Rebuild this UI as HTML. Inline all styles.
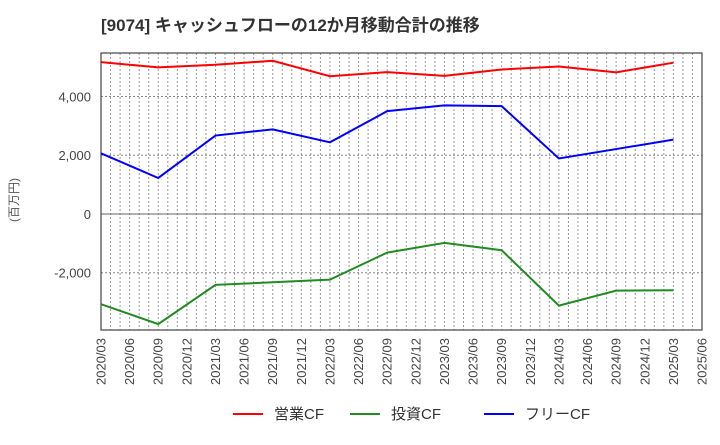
<!DOCTYPE html>
<html><head><meta charset="utf-8"><style>
body{margin:0;background:#fff;width:720px;height:440px;overflow:hidden;font-family:"Liberation Sans","Noto Sans CJK JP",sans-serif}
</style></head><body>
<svg id="chart" width="720" height="440" xmlns="http://www.w3.org/2000/svg" font-family="Liberation Sans, Noto Sans CJK JP, sans-serif">
<text x="101" y="31" font-size="17" font-weight="bold" fill="#333">[9074]  キャッシュフローの12か月移動合計の推移</text>
<text transform="translate(18,200) rotate(-90)" text-anchor="middle" font-size="12" fill="#555">(百万円)</text>
<g id="grid"></g><g id="axes"></g><g id="series"></g>
<g font-size="15" fill="#333">
<line x1="233" y1="414" x2="263" y2="414" stroke="#ff0000" stroke-width="2"/><text x="274" y="419">営業CF</text>
<line x1="350" y1="414" x2="380" y2="414" stroke="#228b22" stroke-width="2"/><text x="391" y="419">投資CF</text>
<line x1="484" y1="414" x2="514" y2="414" stroke="#0000ff" stroke-width="2"/><text x="525" y="419">フリーCF</text>
</g>
</svg>
<script>
const xLabels=["2020/03","2020/06","2020/09","2020/12","2021/03","2021/06","2021/09","2021/12","2022/03","2022/06","2022/09","2022/12","2023/03","2023/06","2023/09","2023/12","2024/03","2024/06","2024/09","2024/12","2025/03","2025/06"];
const pointQuarters=[0,2,4,6,8,10,12,14,16,18,20];
const operatingCF=[5170,4990,5080,5215,4690,4830,4700,4920,5020,4820,5150];
const investingCF=[-3070,-3750,-2415,-2325,-2235,-1315,-985,-1235,-3120,-2610,-2595];
const freeCF=[2065,1225,2670,2880,2440,3500,3695,3670,1890,2210,2530];
const yTicks=[-2000,0,2000,4000];
const yTickLabels=["-2,000","0","2,000","4,000"];
const L=101,R=702,T=53,B=330,yMin=-3950,yMax=5480;
const NS="http://www.w3.org/2000/svg";
const xq=q=>L+(R-L)*q/21;
const y=v=>B-(v-yMin)/(yMax-yMin)*(B-T);
function mk(tag,attrs,parent){const e=document.createElementNS(NS,tag);for(const k in attrs)e.setAttribute(k,attrs[k]);parent.appendChild(e);return e;}
const grid=document.getElementById('grid'),axes=document.getElementById('axes'),ser=document.getElementById('series');
for(let m=1;m<63;m++){const x=L+(R-L)*m/63;
const g=mk('line',{x1:x,y1:T,x2:x,y2:B,stroke:'#999','stroke-dasharray':'2,2','stroke-width':1},grid);

}
yTicks.forEach((v,i)=>{const yy=y(v);
const g=mk('line',{x1:L,y1:yy,x2:R,y2:yy,stroke:v===0?'#666':'#888','stroke-dasharray':v===0?'':'2,2','stroke-width':1},grid);


const t=mk('text',{x:91,y:yy+5,'text-anchor':'end','font-size':13,fill:'#444'},axes);t.textContent=yTickLabels[i];

});
const fr=mk('rect',{x:L,y:T,width:R-L,height:B-T,fill:'none',stroke:'#444','stroke-width':1.2},axes);


xLabels.forEach((s,i)=>{const x=xq(i);
const t=mk('text',{transform:`translate(${x+4.5},338) rotate(-90)`,'text-anchor':'end','font-size':13,fill:'#444'},axes);t.textContent=s;

});
function line(data,color,name){const p=mk('polyline',{points:data.map((v,i)=>xq(pointQuarters[i])+','+y(v)).join(' '),fill:'none',stroke:color,'stroke-width':2},ser);

}
line(operatingCF,'#ff0000','operating-cf-line');
line(investingCF,'#228b22','investing-cf-line');
line(freeCF,'#0000ff','free-cf-line');
</script>
</body></html>
